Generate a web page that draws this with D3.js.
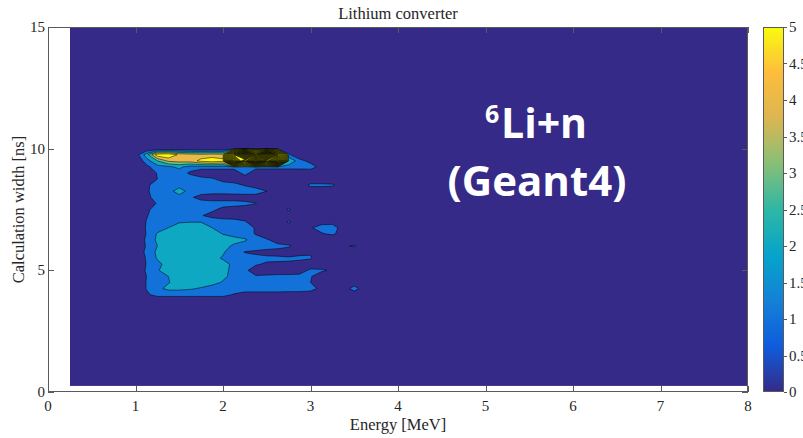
<!DOCTYPE html>
<html>
<head>
<meta charset="utf-8">
<script src="https://cdn.jsdelivr.net/npm/d3@7"></script>
<style>
  html, body { margin: 0; padding: 0; background: #fff; overflow: hidden; }
</style>
</head>
<body>
<svg id="chart" width="803" height="438"></svg>
<script>
// ---- chart text ----
const title = "Lithium converter";
const xLabel = "Energy [MeV]";
const yLabel = "Calculation width [ns]";

// ---- axes ----
const xDomain = [0, 8];
const yDomain = [0, 15];
const xTicks = [0, 1, 2, 3, 4, 5, 6, 7, 8];
const yTicks = [0, 5, 10, 15];
const colorDomain = [0, 5];
const colorTicks = [0, 0.5, 1, 1.5, 2, 2.5, 3, 3.5, 4, 4.5, 5];

// ---- histogram extent (energy x width) ----
const dataExtentE = [0.25, 8];
const dataExtentW = [0.25, 15];

// ---- counts on the populated part of the grid ----
// columns: energy from gridE0 in steps of gridDE; rows: width from gridWTop downwards
const gridE0 = 0.875, gridDE = 0.125, gridCols = 24;
const gridWTop = 10.25, gridDW = 0.25;
const countRows = [
  [],                                                                                     // 10.25
  [],                                                                                     // 10.00
  [0, 0.4, 2.5, 5.6, 5.9, 4.8, 4.5, 4.4, 4.5, 4.4, 30, 55, 25, 58, 28, 1.2],             // 9.75
  [0, 0, 1.5, 3, 4.2, 4.4, 4.5, 5.3, 5.6, 5.3, 45, 22, 56, 26, 50, 3, 1.4, 0.6],          // 9.50
  [0, 0, 0.7, 1.6, 1.8, 2.2, 1.6, 1.6, 1.6, 1.6, 1.6, 1.5, 1.5, 1.5, 1.5, 1.5, 1.5, 1.6, 0.5], // 9.25
  [0, 0, 0, 1.1, 1.6, 1.6, 0.8, 0, 0, 0, 0, 1.6],                                         // 9.00
  [0, 0, 0, 1.0, 1.6, 1.6, 1.6, 1.5, 1.2, 0.5, 0.2],                                      // 8.75
  [0, 0, 0.75, 1.6, 1.7, 1.6, 1.6, 1.6, 1.6, 1.6, 1.5, 0.9, 0.3, 0, 0, 0, 0, 1.3, 1.3, 1.2], // 8.50
  [0, 0, 0.8, 1.6, 1.6, 2.5, 1.6, 1.6, 1.6, 1.6, 1.7, 1.8, 1.8, 1.0],                     // 8.25
  [0, 0, 0.6, 1.6, 1.6, 1.6, 1.2, 0.5, 0.2, 0.2, 0.2, 0.2, 0.2],                          // 8.00
  [0, 0, 0.3, 1.1, 1.6, 1.6, 1.6, 1.6, 1.6, 1.6, 1.6, 1.4, 1.05],                         // 7.75
  [0, 0, 0.7, 1.6, 1.6, 1.6, 1.6, 1.6, 1.3, 0.6, 0.3, 0.2, 0, 0, 0, 1.2],                 // 7.50
  [0, 0, 0.9, 1.6, 1.6, 1.7, 1.7, 1.1, 0.5, 0.3, 0.3, 0.3],                               // 7.25
  [0, 0, 1.05, 1.6, 1.8, 1.9, 1.95, 1.95, 1.9, 1.6, 1.5, 1.1, 0.2, 0, 0, 1.2, 0, 0.3, 0.6, 0.6, 0.3], // 7.00
  [0, 0, 1.1, 1.6, 2.0, 2.4, 2.5, 2.5, 2.0, 1.6, 1.6, 1.5, 0.9, 0, 0, 0, 0, 0.9, 1.4, 1.5, 0.5],   // 6.75
  [0, 0, 1.05, 2.1, 2.5, 2.5, 2.5, 2.5, 2.5, 1.95, 1.6, 1.6, 0.9, 0, 0, 0, 0, 0.3, 0.9, 1.2, 0.5], // 6.50
  [0, 0, 1.2, 2.2, 2.5, 2.5, 2.5, 2.5, 2.5, 2.5, 2.4, 2.1, 1.6, 1.2, 0.3],                // 6.25
  [0, 0, 1.1, 2.0, 2.5, 2.5, 2.5, 2.5, 2.5, 2.4, 1.8, 1.6, 1.6, 1.5, 1.4, 1.2, 0.1, 0, 0, 0, 0.8, 1.15], // 6.00
  [0, 0, 1.3, 2.2, 2.5, 2.5, 2.5, 2.5, 2.5, 2.1, 1.5, 0.95, 0.8, 0.6, 0.5, 0.2, 0.7, 0.9, 0.2],  // 5.75
  [0, 0, 1.1, 2.1, 2.5, 2.5, 2.5, 2.5, 2.3, 1.9, 1.6, 1.4, 1.3, 1.25, 1.25, 1.2, 1.2, 1.1, 0.2], // 5.50
  [0, 0, 1.05, 1.7, 2.4, 2.5, 2.5, 2.5, 2.5, 2.3, 1.8, 1.6, 1.1, 0.85, 0.8, 0.8, 0.6, 0.3],     // 5.25
  [0, 0, 1.15, 1.9, 2.5, 2.5, 2.5, 2.5, 2.5, 2.3, 1.7, 1.2, 0.5, 0.3, 0.3, 0.3, 0.5, 1.2, 1.2, 0.8], // 5.00
  [0, 0, 1.0, 1.6, 2.0, 2.4, 2.5, 2.5, 2.5, 2.2, 1.7, 1.2, 1.1, 1.2, 1.3, 1.3, 1.3, 1.1, 0.3],  // 4.75
  [0, 0, 1.05, 1.6, 1.95, 2.3, 2.5, 2.5, 2.3, 1.9, 1.6, 1.6, 1.6, 1.5, 1.5, 1.4, 1.3, 1.0, 0.3], // 4.50
  [0, 0, 1.05, 1.8, 2.2, 2.2, 2.1, 1.9, 1.6, 1.6, 1.6, 1.6, 1.6, 1.6, 1.6, 1.5, 1.5, 1.4, 0.7, 0, 0, 1.7], // 4.25
  [0, 0, 0.8, 1.4, 1.4, 1.4, 1.4, 1.4, 1.4, 1.4, 0.9, 0.5, 0.5, 0.5, 0.5, 0.5, 0.5, 0.4],      // 4.00
  []                                                                                      // 3.75
];

// contour levels
const levels = d3.range(1, 60);

// parula colour map anchors (evenly spaced from 0 to 1)
const parulaStops = ["#352a87", "#0f5cdd", "#1481d6", "#06a4ca", "#2eb7a4",
                     "#87bf77", "#dcb651", "#fdbd3c", "#f9fb0e"];

// ---- layout ----
const svg = d3.select("#chart");
const plot = { left: 48, right: 748, top: 27, bottom: 392 };
const x = d3.scaleLinear().domain(xDomain).range([plot.left, plot.right]);
const y = d3.scaleLinear().domain(yDomain).range([plot.bottom, plot.top]);

const parula = d3.piecewise(d3.interpolateRgb, parulaStops);
const colorScale = d3.scaleLinear().domain(colorDomain).range([0, 1]).clamp(true);
const fillFor = v => parula(colorScale(v));

const serif = "'Liberation Serif', 'Times New Roman', serif";
const textColor = "#262626";
const tickFont = 15, labelFont = 16.5;

// ---- filled contours ----
const nRows = countRows.length;
const values = [];
countRows.forEach(r => {
  for (let i = 0; i < gridCols; i++) values.push(i < r.length ? r[i] : 0);
});

const toScreen = d3.geoTransform({
  point: function(gx, gy) {
    const e = gridE0 + (gx - 0.5) * gridDE;
    const w = gridWTop - (gy - 0.5) * gridDW;
    this.stream.point(x(e), y(w));
  }
});
const path = d3.geoPath(toScreen);

const contours = d3.contours().size([gridCols, nRows]).thresholds(levels)(values);

const defs = svg.append("defs");
defs.append("clipPath").attr("id", "dataClip")
  .append("rect")
  .attr("x", x(dataExtentE[0])).attr("y", y(dataExtentW[1]))
  .attr("width", x(dataExtentE[1]) - x(dataExtentE[0]))
  .attr("height", y(dataExtentW[0]) - y(dataExtentW[1]));

const field = svg.append("g").attr("clip-path", "url(#dataClip)");
field.append("rect")
  .attr("x", x(dataExtentE[0])).attr("y", y(dataExtentW[1]))
  .attr("width", x(dataExtentE[1]) - x(dataExtentE[0]))
  .attr("height", y(dataExtentW[0]) - y(dataExtentW[1]))
  .attr("fill", fillFor(0));

field.selectAll("path.level")
  .data(contours)
  .join("path")
  .attr("class", "level")
  .attr("d", path)
  .attr("fill", d => fillFor(d.value))
  .attr("stroke", "#000")
  .attr("stroke-width", 0.5)
  .attr("stroke-linejoin", "round");

// ---- axes box and ticks ----
const axisColor = "#5a5a5a";
const tickLen = 6;
const axes = svg.append("g").attr("stroke", axisColor).attr("stroke-width", 1).attr("fill", "none");
axes.append("rect")
  .attr("x", plot.left + 0.5).attr("y", plot.top + 0.5)
  .attr("width", plot.right - plot.left - 1).attr("height", plot.bottom - plot.top - 1);

xTicks.forEach(t => {
  const px = Math.round(x(t)) + 0.5;
  axes.append("line").attr("x1", px).attr("x2", px).attr("y1", plot.bottom).attr("y2", plot.bottom - tickLen);
  axes.append("line").attr("x1", px).attr("x2", px).attr("y1", plot.top).attr("y2", plot.top + tickLen);
});
yTicks.forEach(t => {
  const py = Math.round(y(t)) + 0.5;
  axes.append("line").attr("x1", plot.left).attr("x2", plot.left + tickLen).attr("y1", py).attr("y2", py);
  axes.append("line").attr("x1", plot.right).attr("x2", plot.right - tickLen).attr("y1", py).attr("y2", py);
});

// tick labels
svg.append("g").selectAll("text").data(xTicks).join("text")
  .attr("x", d => x(d)).attr("y", 411)
  .attr("text-anchor", "middle")
  .attr("font-family", serif).attr("font-size", tickFont).attr("fill", textColor)
  .text(d => d);

svg.append("g").selectAll("text").data(yTicks).join("text")
  .attr("x", 45).attr("y", d => y(d) + 5)
  .attr("text-anchor", "end")
  .attr("font-family", serif).attr("font-size", tickFont).attr("fill", textColor)
  .text(d => d);

// axis labels and title
svg.append("text")
  .attr("x", (plot.left + plot.right) / 2).attr("y", 430)
  .attr("text-anchor", "middle")
  .attr("font-family", serif).attr("font-size", labelFont).attr("fill", textColor)
  .text(xLabel);

svg.append("text")
  .attr("transform", `translate(24, ${(plot.top + plot.bottom) / 2}) rotate(-90)`)
  .attr("text-anchor", "middle")
  .attr("font-family", serif).attr("font-size", labelFont).attr("fill", textColor)
  .text(yLabel);

svg.append("text")
  .attr("x", (plot.left + plot.right) / 2).attr("y", 19)
  .attr("text-anchor", "middle")
  .attr("font-family", serif).attr("font-size", labelFont).attr("fill", textColor)
  .text(title);

// ---- annotation ----
const note = svg.append("g").attr("fill", "#fff")
  .attr("font-family", "'Open Sans', 'DejaVu Sans', sans-serif").attr("font-weight", 700);
note.append("text").attr("x", 485).attr("y", 123).attr("font-size", 25).text("6");
note.append("text").attr("x", 501).attr("y", 138).attr("font-size", 41).text("Li+n");
note.append("text").attr("x", 537).attr("y", 196).attr("text-anchor", "middle")
  .attr("font-size", 42).text("(Geant4)");

// ---- colour bar ----
const cb = { x: 763, width: 21 };
const cbScale = d3.scaleLinear().domain(colorDomain).range([plot.bottom, plot.top]);
const grad = defs.append("linearGradient")
  .attr("id", "parulaGrad").attr("x1", 0).attr("y1", 1).attr("x2", 0).attr("y2", 0);
d3.range(0, 65).forEach(i => {
  const t = i / 64;
  grad.append("stop").attr("offset", t).attr("stop-color", parula(t));
});
svg.append("rect")
  .attr("x", cb.x).attr("y", plot.top)
  .attr("width", cb.width).attr("height", plot.bottom - plot.top)
  .attr("fill", "url(#parulaGrad)");
svg.append("rect")
  .attr("x", cb.x + 0.5).attr("y", plot.top + 0.5)
  .attr("width", cb.width - 1).attr("height", plot.bottom - plot.top - 1)
  .attr("fill", "none").attr("stroke", axisColor).attr("stroke-width", 1);

const cbTicks = svg.append("g").attr("stroke", axisColor).attr("stroke-width", 1);
colorTicks.forEach(t => {
  const py = Math.round(cbScale(t)) + 0.5;
  cbTicks.append("line").attr("x1", cb.x + cb.width).attr("x2", cb.x + cb.width + 3)
    .attr("y1", py).attr("y2", py);
});
svg.append("g").selectAll("text").data(colorTicks).join("text")
  .attr("x", cb.x + cb.width + 5).attr("y", d => cbScale(d) + 5)
  .attr("font-family", serif).attr("font-size", tickFont).attr("fill", textColor)
  .text(d => d);
</script>
</body>
</html>
